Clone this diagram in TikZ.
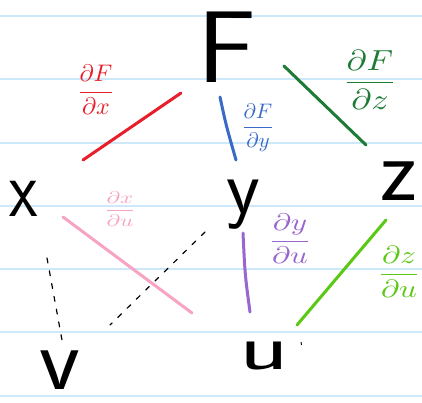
\documentclass[tikz,border=0pt]{standalone}
\usepackage{amsmath}
\begin{document}
\begin{tikzpicture}[x=1pt,y=-1pt,
  letter/.style={inner sep=0pt},
  lbl/.style={inner sep=0pt},
  stroke/.style={line width=3pt,line cap=round},
  dashlink/.style={line width=1.2pt,dash pattern=on 5pt off 8pt,line cap=round},
  rule/.style={line width=1.6pt,color=ruleblue}]
\definecolor{ruleblue}{RGB}{205,232,248}
\definecolor{cred}{RGB}{232,30,42}
\definecolor{cblue}{RGB}{58,105,200}
\definecolor{cgreen}{RGB}{30,123,53}
\definecolor{cpink}{RGB}{247,163,196}
\definecolor{cpurple}{RGB}{152,102,206}
\definecolor{clime}{RGB}{90,200,20}
\useasboundingbox (0,0) rectangle (422,402);
\fill[white] (0,0) rectangle (422,402);
% ruled paper
\foreach \yy in {16,79,143,206,269,332,396}
  \draw[rule] (0,\yy) -- (422,\yy);
% variables
\node[letter,font=\sffamily\fontsize{102}{102}\selectfont,xscale=1.08] (F) at (227,47) {F};
\node[letter,font=\sffamily\fontsize{82}{82}\selectfont,xscale=0.8] (x) at (24,199) {x};
\node[letter,font=\sffamily\fontsize{78}{78}\selectfont] (y) at (243,205) {y};
\node[letter,font=\sffamily\fontsize{90}{90}\selectfont] (z) at (399,181) {z};
\node[letter,font=\sffamily\fontsize{64}{64}\selectfont,xscale=1.6] (u) at (264,356) {u};
\node[letter,font=\sffamily\fontsize{90}{90}\selectfont,xscale=1.05] (v) at (60,370) {v};
% labels
\node[lbl,scale=2.4,text=cred] (lFx) at (96,90) {$\dfrac{\partial F}{\partial x}$};
\node[lbl,scale=2.1,text=cblue] (lFy) at (258,128) {$\dfrac{\partial F}{\partial y}$};
\node[lbl,xscale=3.4,yscale=2.9,text=cgreen] (lFz) at (370,80) {$\dfrac{\partial F}{\partial z}$};
\node[lbl,xscale=2.3,yscale=1.7,text=cpink] (lxu) at (120,209) {$\dfrac{\partial x}{\partial u}$};
\node[lbl,xscale=3.1,yscale=2.4,text=cpurple] (lyu) at (290,239) {$\dfrac{\partial y}{\partial u}$};
\node[lbl,xscale=3.1,yscale=2.5,text=clime] (lzu) at (399,272) {$\dfrac{\partial z}{\partial u}$};
% connector end points
\coordinate (Fx1) at (181,93);  \coordinate (Fx2) at (83,160);
\coordinate (Fy1) at (220,97);  \coordinate (Fy2) at (236,160);
\coordinate (Fz1) at (284,66);  \coordinate (Fz2) at (366,145);
\coordinate (xu1) at (63,217);  \coordinate (xu2) at (192,313);
\coordinate (yu1) at (243,233); \coordinate (yu2) at (250,312);
\coordinate (zu1) at (386,220); \coordinate (zu2) at (297,325);
\coordinate (xv1) at (47,258);  \coordinate (xv2) at (62,340);
\coordinate (yv1) at (205,232); \coordinate (yv2) at (110,325);
% connectors
\draw[stroke,cred] (Fx1) -- (Fx2);
\draw[stroke,cblue] (Fy1) .. controls (226,125) .. (Fy2);
\draw[stroke,cgreen] (Fz1) -- (Fz2);
\draw[stroke,cpink] (xu1) -- (xu2);
\draw[stroke,cpurple] (yu1) .. controls (245,275) .. (yu2);
\draw[stroke,clime] (zu1) -- (zu2);
\draw[dashlink] (xv1) -- (xv2);
\draw[dashlink] (yv1) -- (yv2);
\coordinate (dot) at (301,342);
\draw[line width=0.9pt] (dot) -- ++(0.5,3);
\end{tikzpicture}
\end{document}
